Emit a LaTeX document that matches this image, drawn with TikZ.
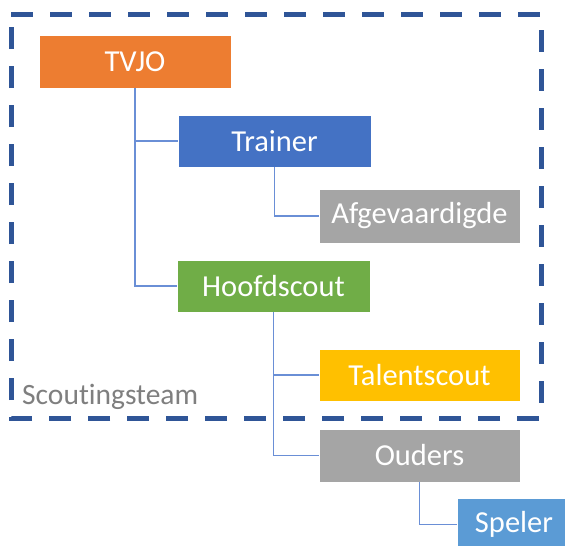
\documentclass[tikz,border=0pt]{standalone}
\usepackage{fontspec}
\setmainfont[Ligatures={NoCommon}]{Carlito}
\definecolor{cOrange}{HTML}{ED7D31}
\definecolor{cBlue}{HTML}{4472C4}
\definecolor{cGray}{HTML}{A5A5A5}
\definecolor{cGreen}{HTML}{70AD47}
\definecolor{cGold}{HTML}{FFC000}
\definecolor{cLight}{HTML}{5B9BD5}
\definecolor{cBorder}{HTML}{2F5597}
\definecolor{cLine}{HTML}{6A8FD6}
\definecolor{cLabel}{HTML}{7F7F7F}
\tikzset{
  orgbox/.style={rectangle, draw=white, line width=0.6pt, text=white, inner sep=0pt,
    font=\fontsize{30.5}{34}\selectfont, minimum height=53pt},
  link/.style={draw=cLine, line width=1.1pt},
  frame/.style={draw=cBorder, line width=5pt, dash pattern=on 22pt off 17pt}
}
\begin{document}
\begin{tikzpicture}[x=1pt,y=-1pt]
\useasboundingbox (0,0) rectangle (565,546);
\clip (0,0) rectangle (565,546);
\fill[white] (0,0) rectangle (565,546);
% dashed frame
\draw[frame] (11,14) -- (541,14) -- (541,418) -- (11,418) -- cycle;
\node[anchor=base west, text=cLabel, font=\fontsize{29.5}{34}\selectfont, inner sep=0pt] (lbl) at (22,404) {Scoutingsteam};
% boxes
\node[orgbox, fill=cOrange, minimum width=192pt] (tvjo) at (135,61.5) {TVJO};
\node[orgbox, fill=cBlue, minimum width=193pt, minimum height=52pt] (trainer) at (274.5,141) {Trainer};
\node[orgbox, fill=cGray, minimum width=201pt, minimum height=54pt] (afg) at (419.5,216) {Afgevaardigde};
\node[orgbox, fill=cGreen, minimum width=193pt, minimum height=52pt] (hoofd) at (273.5,286) {Hoofdscout};
\node[orgbox, fill=cGold, minimum width=201pt, minimum height=52pt] (talent) at (419.5,375) {Talentscout};
\node[orgbox, fill=cGray, minimum width=201pt] (ouders) at (419.5,455.5) {Ouders};
\node[orgbox, fill=cLight, minimum width=114pt] (speler) at (514,524.5) {Speler};
% connectors
\draw[link] (tvjo.south) |- (trainer.west);
\draw[link] (tvjo.south) |- (hoofd.west);
\draw[link] (trainer.south) |- (afg.west);
\draw[link] (hoofd.south) |- (talent.west);
\draw[link] (hoofd.south) |- (ouders.west);
\draw[link] (ouders.south) |- (speler.west);
\end{tikzpicture}
\end{document}
